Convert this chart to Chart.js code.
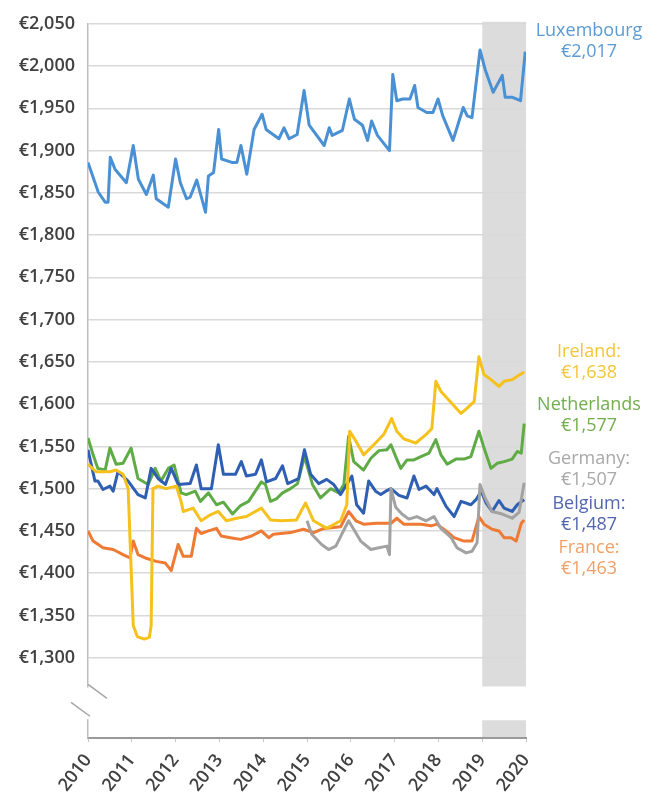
<!DOCTYPE html>
<html>
<head>
<meta charset="utf-8">
<script src="https://cdn.jsdelivr.net/npm/chart.js@4"></script>
<style>
  html, body { margin: 0; padding: 0; background: #fff; }
</style>
</head>
<body>
<canvas id="chart" width="658" height="803"></canvas>
<script>
// months since Jan 2010 / monthly minimum wage (EUR)
const luxMonths = [0,2.8,4.7,5.5,6.1,7.4,10.5,12.4,13.8,16,17.9,18.7,22,24,25.3,27,28,29.8,32.2,33,34.4,35.8,36.6,39.4,40.8,41.9,43.5,45.5,47.7,48.8,52.3,53.7,55.1,57.3,59.2,60.6,64.7,66.1,66.9,69.7,71.6,73,75.2,76.6,77.7,79.3,82.6,83.5,84.6,86.2,88.2,89.5,90.4,92.8,94.5,95.9,97.2,100,102.8,103.9,105.2,107.4,108.8,111,113.5,114.3,116.3,118.5,119.8];
const luxValues = [1886,1851,1839,1839,1892,1878,1862,1906,1866,1848,1871,1843,1833,1890,1862,1843,1845,1865,1827,1870,1874,1925,1890,1886,1886,1906,1872,1925,1943,1925,1914,1927,1914,1919,1971,1930,1906,1927,1918,1924,1961,1937,1930,1912,1935,1918,1900,1990,1959,1961,1961,1977,1951,1945,1945,1961,1941,1912,1951,1941,1939,2019,1996,1969,1989,1963,1963,1959,2017];

const ieMonths = [0,2.2,6,7.7,9.6,11,12.4,13.5,15.4,16.8,17.3,17.8,19.2,21.4,24.2,25.5,26.1,28.8,31,33.5,35.7,37.9,40.7,43.4,47.5,50,53,57.1,59.6,61.8,65.4,69.2,70.9,71.7,73.4,75.5,78.3,81,83.2,84.6,86.5,89.8,92.6,94.2,95.3,96.7,98.4,102.2,103.8,105.8,107.1,108.5,110.4,112.6,114,116.2,117.6,119.5];
const ieValues = [1529,1520,1520,1522,1517,1500,1338,1325,1322,1324,1338,1500,1503,1500,1503,1485,1473,1477,1462,1469,1473,1462,1465,1467,1477,1463,1462,1463,1483,1462,1453,1462,1481,1568,1556,1540,1552,1564,1583,1568,1559,1554,1564,1571,1627,1615,1607,1589,1595,1603,1656,1635,1629,1621,1627,1629,1633,1638];

const nlMonths = [0,1.4,2.7,4.7,6,7.7,9.6,11.8,13.7,16.5,18.4,20,22,23.6,25.5,26.9,29.4,30.8,33,35.2,37.1,39.6,41.8,44,47.5,48.6,50,51.6,53.3,55.5,57.4,59.3,61.5,63.7,66.5,68.7,70.1,71.4,72.8,75.5,77.5,79.7,81.9,83,84.3,85.7,87.4,89.3,91.2,93.4,95.3,96.7,98.4,100.8,103,104.9,107.1,108.5,110.4,112.1,114,116.2,117.6,118.7,119.5];
const nlValues = [1560,1540,1524,1522,1548,1529,1530,1548,1512,1505,1524,1509,1524,1528,1495,1493,1497,1485,1495,1481,1484,1470,1480,1485,1508,1505,1485,1488,1495,1500,1506,1538,1505,1489,1500,1495,1505,1562,1532,1522,1536,1545,1546,1552,1538,1524,1534,1534,1538,1542,1558,1540,1529,1535,1535,1538,1568,1548,1524,1530,1532,1535,1544,1542,1577];

const deMonths = [60,61.3,64,65.9,67.9,69.5,71.4,72.8,74.7,77.5,79.7,81.9,82.6,83,84.3,86,87.9,90.1,92.6,94.8,96.7,99.5,101.1,103.6,105.2,106.6,107.4,108.8,110.7,113.5,116.2,118.1,119.5];
const deValues = [1462,1446,1434,1428,1432,1446,1462,1452,1438,1428,1430,1432,1422,1500,1478,1470,1464,1467,1462,1467,1453,1442,1430,1424,1426,1436,1505,1489,1473,1470,1465,1472,1507];

const beMonths = [0,1.9,2.7,4.1,6,6.9,8.2,11,13.7,15.7,17.3,19.2,21.2,22.8,24.7,28,29.7,31,33.8,35.7,37.1,40.4,42,43.4,45.9,47.5,48.9,51.4,53.3,54.7,57.7,59.3,61,63.2,65.4,67.3,69.2,72.3,73.6,75.5,76.9,78.8,80.2,81.6,83,85.2,87.4,89.3,90.7,92.6,94.8,95.6,98.1,100.3,102.2,104.9,106.3,107.7,109.1,110.7,112.6,114,116.2,117.6,119.5];
const beValues = [1546,1509,1509,1499,1503,1497,1520,1509,1493,1489,1524,1512,1505,1524,1505,1506,1528,1500,1500,1552,1517,1517,1532,1515,1517,1534,1508,1512,1527,1506,1512,1546,1517,1506,1511,1505,1493,1515,1481,1471,1509,1497,1493,1497,1500,1492,1489,1515,1499,1503,1493,1500,1479,1467,1485,1481,1487,1497,1483,1473,1486,1477,1473,1481,1487];

const frMonths = [0,1.4,4.1,6.9,9.6,11.5,12.4,13.7,15.7,18.7,21.2,22.8,24.7,26.1,28.3,29.7,31,33,35.2,36.5,39,41.8,44.8,47.5,49.5,50.8,55.5,59,61.8,64.6,69.2,71.4,73.4,75.5,79.1,83,84.6,86.5,91.2,94,95.6,98.1,100.3,103,105.2,107.1,108.5,110.7,112.6,114,115.9,117.3,118.7,119.5];
const frValues = [1450,1438,1430,1428,1422,1418,1438,1422,1418,1414,1412,1403,1434,1420,1420,1453,1447,1450,1453,1444,1442,1440,1444,1450,1442,1446,1448,1452,1448,1453,1455,1473,1462,1458,1459,1459,1465,1458,1458,1456,1458,1450,1442,1438,1438,1467,1458,1452,1450,1442,1442,1438,1459,1463];

const startYear = 2010;
const yTickMin = 1300;
const shadeFrom = 108, shadeTo = 120; // 2019 -> 2020

function pts(months, values) {
  return months.map((m, i) => ({ x: m, y: values[i] }));
}

const euro = v => '€' + Math.round(v).toLocaleString('en-US');

Chart.defaults.font.family = "'Open Sans', sans-serif";

// series in draw order (first = on top)
const series = [
  { label: 'Ireland', months: ieMonths, values: ieValues, line: '#f6c11c', text: '#f3c53a', tag: 'Ireland:', ty: 352 },
  { label: 'Germany', months: deMonths, values: deValues, line: '#a2a2a2', text: '#a8a8a8', tag: 'Germany:', ty: 459 },
  { label: 'Belgium', months: beMonths, values: beValues, line: '#2f5fb3', text: '#5166ae', tag: 'Belgium:', ty: 504 },
  { label: 'Netherlands', months: nlMonths, values: nlValues, line: '#5fab45', text: '#72ad4e', tag: 'Netherlands', ty: 405 },
  { label: 'France', months: frMonths, values: frValues, line: '#ee7a33', text: '#f1a066', tag: 'France:', ty: 548 },
  { label: 'Luxembourg', months: luxMonths, values: luxValues, line: '#4a90d4', text: '#5b9bd5', tag: 'Luxembourg', ty: 31 }
];

const breakPlugin = {
  id: 'breakAndShade',
  beforeDraw(chart) {
    const { ctx, chartArea, scales: { x, y } } = chart;
    const x0 = x.getPixelForValue(shadeFrom), x1 = x.getPixelForValue(shadeTo);
    const gapTop = y.getPixelForValue(1266), gapBot = y.getPixelForValue(1226);
    ctx.save();
    ctx.fillStyle = '#dcdcdc';
    ctx.fillRect(x0, chartArea.top - 2, x1 - x0, gapTop - chartArea.top + 2);
    ctx.fillRect(x0, gapBot, x1 - x0, chartArea.bottom - gapBot);
    ctx.restore();
  },
  afterDraw(chart) {
    const { ctx, chartArea, scales: { y } } = chart;
    const left = chartArea.left;
    const gapTop = y.getPixelForValue(1266), gapBot = y.getPixelForValue(1226);
    ctx.save();
    // cut the y axis line
    ctx.fillStyle = '#fff';
    ctx.fillRect(left - 4, gapTop + 1, 8, gapBot - gapTop - 2);
    // break marks
    ctx.strokeStyle = '#a6a6a6';
    ctx.lineWidth = 1.5;
    ctx.beginPath();
    ctx.moveTo(left, gapTop - 2);
    ctx.lineTo(left + 19, gapTop + 12);
    ctx.moveTo(left - 17, gapTop + 16);
    ctx.lineTo(left + 2, gapBot - 4);
    ctx.stroke();

    // end-of-line labels
    ctx.textAlign = 'center';
    ctx.textBaseline = 'middle';
    ctx.font = "18px 'Open Sans', sans-serif";
    series.forEach(s => {
      ctx.fillStyle = s.text;
      ctx.fillText(s.tag, 589, s.ty);
      ctx.fillText(euro(s.values[s.values.length - 1]), 589, s.ty + 21);
    });
    ctx.restore();
  }
};

new Chart(document.getElementById('chart'), {
  type: 'line',
  data: {
    datasets: series.map(s => ({
      label: s.label,
      data: pts(s.months, s.values),
      borderColor: s.line,
      borderWidth: 3,
      pointRadius: 0,
      tension: 0,
      fill: false,
      borderJoinStyle: 'round'
    }))
  },
  options: {
    responsive: false,
    animation: false,
    layout: { padding: { top: 20, right: 132, left: 0, bottom: 0 } },
    plugins: { legend: { display: false }, tooltip: { enabled: false } },
    scales: {
      x: {
        type: 'linear',
        min: 0,
        max: 120,
        afterFit: s => { s.height = 65; },
        grid: { drawOnChartArea: false, drawTicks: true, tickLength: 4, color: '#c8c8c8' },
        border: { display: true, color: '#9a9a9a', width: 2 },
        ticks: {
          stepSize: 12,
          autoSkip: false,
          minRotation: 52,
          maxRotation: 52,
          padding: 8,
          color: '#404040',
          font: { size: 18, weight: '600' },
          callback: v => String(startYear + v / 12)
        }
      },
      y: {
        min: 1205,
        max: 2050,
        afterFit: s => { s.width = 88; },
        afterBuildTicks: s => { s.ticks = s.ticks.filter(t => t.value >= yTickMin); },
        grid: { color: '#d9d9d9', lineWidth: 1.5, drawTicks: false },
        border: { display: true, color: '#bdbdbd', width: 1.5 },
        ticks: {
          stepSize: 50,
          padding: 13,
          color: '#404040',
          font: { size: 18, weight: '600' },
          callback: v => euro(v)
        }
      }
    }
  },
  plugins: [breakPlugin]
});
</script>
</body>
</html>
